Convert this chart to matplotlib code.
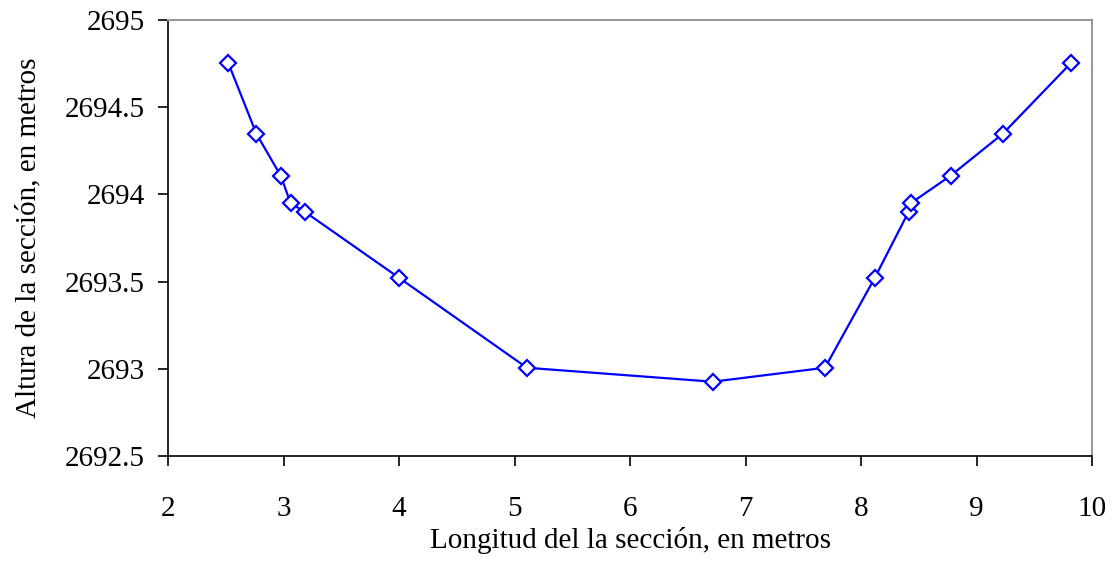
import matplotlib
matplotlib.use("Agg")
import matplotlib.pyplot as plt

longitud = [2.523, 2.765, 2.976, 3.062, 3.183, 4.0, 5.107, 6.716,
            7.688, 8.118, 8.413, 8.43, 8.775, 9.228, 9.816]
altura = [2694.752, 2694.348, 2694.107, 2693.949, 2693.901, 2693.522,
          2693.006, 2692.926, 2693.006, 2693.52, 2693.901, 2693.949,
          2694.107, 2694.348, 2694.752]
xticks = [2, 3, 4, 5, 6, 7, 8, 9, 10]
yticks = [2692.5, 2693, 2693.5, 2694, 2694.5, 2695]
ytick_labels = ["2692.5", "2693", "2693.5", "2694", "2694.5", "2695"]

plt.rcParams['font.family'] = ['Liberation Serif', 'DejaVu Serif']

fig = plt.figure(figsize=(11.15, 5.64), dpi=100)
ax = fig.add_axes([168/1115, 1 - 456/564, (1092-168)/1115, (456-20)/564])

ax.plot(longitud, altura, color='#0000FF', linewidth=1.6, marker='D',
        markersize=8, markerfacecolor='white', markeredgecolor='#0000FF',
        markeredgewidth=1.6, clip_on=False, zorder=3)

ax.set_xlim(2, 10)
ax.set_ylim(2692.5, 2695)
ax.set_xticks(xticks)
ax.set_xticklabels([str(t) for t in xticks])
ax.set_yticks(yticks)
ax.set_yticklabels(ytick_labels)

ax.tick_params(axis='both', direction='out', length=7.5, width=1.2,
               labelsize=21, color='black')
ax.tick_params(axis='y', pad=9)
ax.tick_params(axis='x', pad=21)

for s in ['left', 'bottom']:
    ax.spines[s].set_color('black')
    ax.spines[s].set_linewidth(1.2)
for s in ['top', 'right']:
    ax.spines[s].set_color('#999999')
    ax.spines[s].set_linewidth(1.5)

ax.set_xlabel('Longitud del la sección, en metros', fontsize=21, labelpad=4)
ax.set_ylabel('Altura de la sección, en metros', fontsize=21, labelpad=17)

fig.savefig('out.png', dpi=100, facecolor='white')
